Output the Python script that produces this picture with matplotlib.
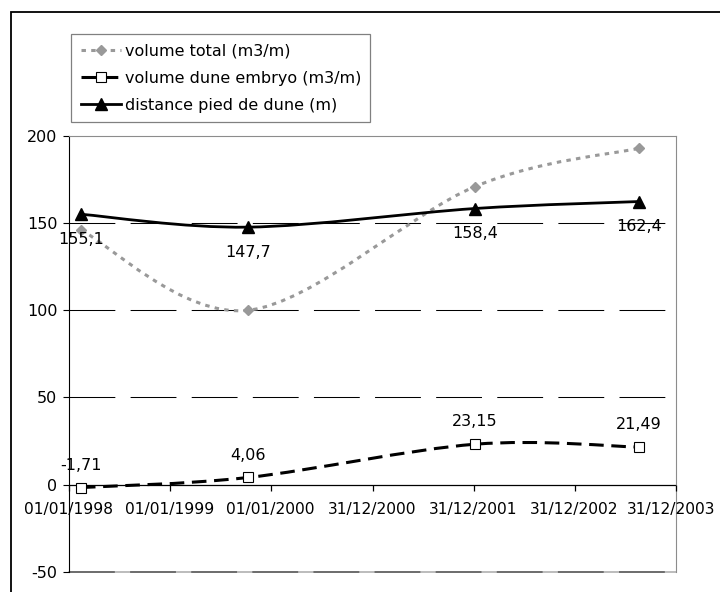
import datetime as dt
import numpy as np
import matplotlib
matplotlib.use("Agg")
import matplotlib.pyplot as plt
import matplotlib.dates as mdates
from matplotlib.path import Path
from matplotlib.patches import PathPatch, Rectangle
from matplotlib.lines import Line2D

plt.rcParams['font.family'] = ['DejaVu Sans']
plt.rcParams['lines.scale_dashes'] = False

# ---- data ----
dates = ["1998-02-13", "1999-10-09", "2002-01-05", "2003-08-20"]
volume_total = [146, 100, 171, 193]
volume_embryo = [-1.71, 4.06, 23.15, 21.49]
distance_pied = [155.1, 147.7, 158.4, 162.4]
embryo_labels = ["-1,71", "4,06", "23,15", "21,49"]
distance_labels = ["155,1", "147,7", "158,4", "162,4"]
tick_dates = ["1998-01-01", "1999-01-01", "2000-01-01", "2000-12-31",
              "2001-12-31", "2002-12-31", "2003-12-31"]
tick_labels = ["01/01/1998", "01/01/1999", "01/01/2000", "31/12/2000",
               "31/12/2001", "31/12/2002", "31/12/2003"]
y_ticks = [-50, 0, 50, 100, 150, 200]
series_names = ["volume total (m3/m)", "volume dune embryo (m3/m)",
                "distance pied de dune (m)"]

FS = 11.5
FS_X = 11.2
W, H = 720, 592
fig = plt.figure(figsize=(W / 100, H / 100), dpi=100)
fig.patch.set_facecolor("white")

# outer chart frame (cropped on right/bottom)
fig.add_artist(Rectangle((11 / W, -0.1), 2.0, 1 - 12 / H + 0.1,
                         transform=fig.transFigure, fill=False,
                         edgecolor="black", linewidth=1.3))

left, right = 69 / W, 676 / W
top, bottom = 1 - 136 / H, 1 - 571.7 / H
ax = fig.add_axes([left, bottom, right - left, top - bottom])


def to_num(ds):
    return mdates.date2num([dt.datetime.strptime(d, "%Y-%m-%d") for d in ds])


x = to_num(dates)
xt = to_num(tick_dates)

ax.set_xlim(xt[0], xt[-1])
ax.set_ylim(-50, 200)


def smooth_patch(xs, ys, **kw):
    pts = np.column_stack([xs, ys]).astype(float)
    n = len(pts)
    verts = [pts[0]]
    codes = [Path.MOVETO]
    for i in range(n - 1):
        p0 = pts[i - 1] if i > 0 else pts[i]
        p1 = pts[i]
        p2 = pts[i + 1]
        p3 = pts[i + 2] if i + 2 < n else pts[i + 1]
        c1 = p1 + (p2 - p0) / 6.0
        c2 = p2 - (p3 - p1) / 6.0
        verts += [c1, c2, p2]
        codes += [Path.CURVE4] * 3
    return PathPatch(Path(verts, codes), fill=False, **kw)


# gridlines
for yv in [50, 100, 150]:
    ax.axhline(yv, color="black", linewidth=0.75, dashes=(33, 11), zorder=1)

# plot-area border
for s in ["top", "right"]:
    ax.spines[s].set_color("#8c8c8c")
    ax.spines[s].set_linewidth(0.8)
ax.spines["bottom"].set_visible(False)
ax.axhline(-50, color="#b0b0b0", linewidth=1.2, clip_on=False, zorder=1)
ax.axhline(-50, color="#606060", linewidth=1.2, dashes=(33, 11),
           clip_on=False, zorder=1)
ax.spines["left"].set_color("black")
ax.spines["left"].set_linewidth(0.8)

# x axis drawn at y = 0
ax.axhline(0, color="black", linewidth=0.9, zorder=2)
ax.set_xticks([])
n_ticks = len(xt)
for i, (xv, lab) in enumerate(zip(xt, tick_labels)):
    dx = -3.5 if i == n_ticks - 1 else -0.5
    ax.annotate(lab, xy=(xv, 0), xytext=(dx, -12.5), textcoords="offset points",
                ha="center", va="top", fontsize=FS_X, color="black",
                annotation_clip=False)
ax.plot(xt, np.zeros(len(xt)), linestyle="none", marker=3, markersize=4.2,
        markeredgewidth=0.9, color="black", clip_on=False, zorder=3)

ax.set_yticks(y_ticks)
ax.set_yticklabels([str(v) for v in y_ticks], fontsize=FS)
ax.tick_params(axis="y", direction="out", length=4.3, width=0.8, pad=4)

# series: volume total
GRAY = "#999999"
ax.add_patch(smooth_patch(x, volume_total, edgecolor=GRAY, linewidth=2.2,
                          linestyle=(0, (3.2, 3.8)), zorder=4))
ax.plot(x, volume_total, linestyle="none", marker="D", markersize=5.6,
        color=GRAY, markeredgecolor=GRAY, zorder=5, clip_on=False)

# series: volume dune embryo
ax.add_patch(smooth_patch(x, volume_embryo, edgecolor="black", linewidth=2.2,
                          linestyle=(0, (10.5, 5.5)), zorder=4))
ax.plot(x, volume_embryo, linestyle="none", marker="s", markersize=7.2,
        markerfacecolor="white", markeredgecolor="black", markeredgewidth=0.8,
        zorder=6, clip_on=False)

# series: distance pied de dune
ax.add_patch(smooth_patch(x, distance_pied, edgecolor="black", linewidth=2.0,
                          linestyle="-", zorder=5))
ax.plot(x, distance_pied, linestyle="none", marker="^", markersize=8.5,
        color="black", zorder=7, clip_on=False)

# data labels
for xv, yv, lab in zip(x, volume_embryo, embryo_labels):
    ax.annotate(lab, xy=(xv, yv), xytext=(0, 16), textcoords="offset points",
                ha="center", va="center", fontsize=FS, zorder=8)
for xv, yv, lab in zip(x, distance_pied, distance_labels):
    ax.annotate(lab, xy=(xv, yv), xytext=(0, -18), textcoords="offset points",
                ha="center", va="center", fontsize=FS, zorder=8)

# legend
handles = [
    Line2D([], [], color=GRAY, linewidth=2.2, linestyle=(0, (3.2, 3.8)),
           marker="D", markersize=5.6, markeredgecolor=GRAY),
    Line2D([], [], color="black", linewidth=2.2, linestyle=(0, (10.5, 5.5)),
           marker="s", markersize=7.2, markerfacecolor="white",
           markeredgecolor="black", markeredgewidth=0.8),
    Line2D([], [], color="black", linewidth=2.0, marker="^", markersize=8.5),
]
leg = fig.legend(handles, series_names, loc="upper left",
                 bbox_to_anchor=(71 / W, 1 - 34 / H), fontsize=FS,
                 frameon=True, fancybox=False, shadow=False, framealpha=1,
                 edgecolor="#808080", handlelength=2.5, handletextpad=0.25,
                 borderpad=0.6, labelspacing=0.75, borderaxespad=0,
                 numpoints=1)
leg.get_frame().set_linewidth(0.9)

fig.savefig("out.png", dpi=100, facecolor="white")
